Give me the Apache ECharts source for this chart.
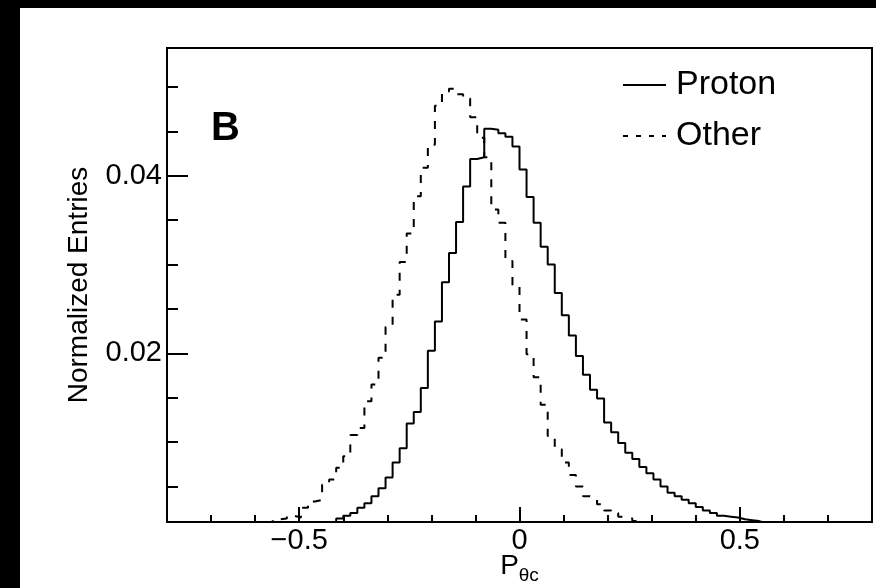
<!DOCTYPE html>
<html><head><meta charset="utf-8">
<script src="https://cdn.jsdelivr.net/npm/echarts@6/dist/echarts.min.js"></script>
<style>html,body{margin:0;padding:0;background:#fff}#c{width:876px;height:588px}</style>
</head><body><div id="c"></div>
<script>
// Histogram binning: 100 bins from -0.8 to 0.8
const binLow = -0.8;
const binWidth = 0.016;

const protonValues = [
  0, 0, 0, 0, 0, 0, 0, 0, 0, 0,
  0, 0, 0, 0, 0, 0, 0.0001, 0.0001, 0.0002, 0.0002,
  0.0003, 0.0004, 0.0006, 0.0008, 0.0014, 0.0017, 0.0020, 0.0026, 0.0031, 0.0039,
  0.0048, 0.0060, 0.0077, 0.0093, 0.0121, 0.0134, 0.0161, 0.0203, 0.0236, 0.0280,
  0.0313, 0.0348, 0.0388, 0.0419, 0.0421, 0.0453, 0.0452, 0.0448, 0.0444, 0.0433,
  0.0407, 0.0376, 0.0347, 0.0320, 0.0300, 0.0268, 0.0243, 0.0220, 0.0197, 0.0176,
  0.0159, 0.0149, 0.0122, 0.0111, 0.0099, 0.0088, 0.0081, 0.0072, 0.0065, 0.0058,
  0.0050, 0.0043, 0.0039, 0.0035, 0.0031, 0.0027, 0.0023, 0.0020, 0.0017, 0.0016,
  0.0015, 0.0013, 0.0012, 0.0011, 0.0009, 0.0008, 0.0007, 0.0006, 0.0005, 0.0004,
  0.0003, 0.0003, 0.0002, 0.0002, 0.0001, 0.0001, 0.0001, 0, 0, 0
];

const otherValues = [
  0, 0, 0, 0, 0, 0, 0, 0, 0, 0,
  0.0002, 0.0003, 0.0004, 0.0006, 0.0008, 0.0013, 0.0014, 0.0017, 0.0015, 0.0026,
  0.0033, 0.0035, 0.0052, 0.0058, 0.0071, 0.0084, 0.0108, 0.0116, 0.0146, 0.0165,
  0.0195, 0.0230, 0.0266, 0.0303, 0.0335, 0.0377, 0.0409, 0.0435, 0.0479, 0.0495,
  0.0498, 0.0492, 0.0487, 0.0466, 0.0443, 0.0421, 0.0362, 0.0347, 0.0304, 0.0277,
  0.0238, 0.0199, 0.0173, 0.0142, 0.0107, 0.0092, 0.0077, 0.0063, 0.0050, 0.0039,
  0.0037, 0.0030, 0.0023, 0.0020, 0.0016, 0.0014, 0.0011, 0.0009, 0.0007, 0.0005,
  0.0004, 0.0003, 0.0002, 0.0001, 0, 0, 0, 0, 0, 0,
  0, 0, 0, 0, 0, 0, 0, 0, 0, 0,
  0, 0, 0, 0, 0, 0, 0, 0, 0, 0
];

const seriesNames = ['Proton', 'Other'];
const xMajorTicks = [-0.5, 0, 0.5];
const xMinorTicks = [-0.7, -0.6, -0.5, -0.4, -0.3, -0.2, -0.1, 0, 0.1, 0.2, 0.3, 0.4, 0.5, 0.6, 0.7];
const yMajorTicks = [0.02, 0.04];
const yMinorTicks = [0.005, 0.01, 0.015, 0.02, 0.025, 0.03, 0.035, 0.04, 0.045, 0.05];

const FONT = '"Liberation Sans", Arial, Helvetica, sans-serif';

function toSteps(vals) {
  const pts = vals.map((v, i) => [binLow + binWidth * i, v]);
  pts.push([binLow + binWidth * vals.length, vals[vals.length - 1]]);
  return pts;
}

const chart = echarts.init(document.getElementById('c'), null, { renderer: 'canvas' });
const tickLine = { color: '#000', width: 2 };

chart.setOption({
  animation: false,
  backgroundColor: '#fff',
  textStyle: { fontFamily: FONT },
  grid: {
    left: 167, top: 48, right: 4, bottom: 66, show: true, borderColor: '#000', borderWidth: 2,
    backgroundColor: 'transparent', containLabel: false, outerBoundsMode: 'none'
  },
  title: { text: 'B', left: 211, top: 109, padding: 0, textStyle: { fontSize: 40, fontWeight: 'bold', color: '#000', fontFamily: FONT } },
  legend: {
    orient: 'vertical', left: 622, top: 68, padding: 0, itemWidth: 43, itemHeight: 14, itemGap: 17,
    itemStyle: { opacity: 0 },
    textStyle: { fontSize: 34, color: '#000', fontFamily: FONT, padding: [0, 0, 0, 5] },
    data: [{ name: seriesNames[0] }, { name: seriesNames[1], lineStyle: { type: [5, 8] } }]
  },
  xAxis: [
    {
      type: 'value', min: -0.8, max: 0.8, position: 'bottom',
      axisLine: { show: true, onZero: false, lineStyle: tickLine },
      splitLine: { show: false },
      axisTick: { show: true, inside: true, length: 15, customValues: xMajorTicks, lineStyle: tickLine },
      axisLabel: {
        customValues: xMajorTicks, fontSize: 29, color: '#000', margin: 4, fontFamily: FONT,
        formatter: v => (v === 0 ? '0' : String(v).replace('-', '\u2212'))
      },
      name: '{p|P}{s|\u03b8c}', nameLocation: 'middle', nameGap: 30, nameMoveOverlap: false,
      nameTextStyle: {
        fontFamily: FONT, color: '#000',
        rich: {
          p: { fontSize: 28, lineHeight: 28, verticalAlign: 'top', color: '#000', fontFamily: FONT },
          s: { fontSize: 19, lineHeight: 33, verticalAlign: 'bottom', color: '#000', fontFamily: FONT }
        }
      }
    },
    {
      type: 'value', min: -0.8, max: 0.8, position: 'bottom',
      axisLine: { show: false, onZero: false },
      splitLine: { show: false },
      axisTick: { show: true, inside: true, length: 7, customValues: xMinorTicks, lineStyle: tickLine },
      axisLabel: { show: false }
    }
  ],
  yAxis: [
    {
      type: 'value', min: 0.001, max: 0.0544, position: 'left',
      axisLine: { show: true, onZero: false, lineStyle: tickLine },
      splitLine: { show: false },
      axisTick: { show: true, inside: true, length: 21, customValues: yMajorTicks, lineStyle: tickLine },
      axisLabel: { customValues: yMajorTicks, fontSize: 29, color: '#000', margin: 5, fontFamily: FONT, formatter: v => v.toFixed(2) },
      name: 'Normalized Entries', nameLocation: 'middle', nameRotate: 90, nameGap: 74, nameMoveOverlap: false,
      nameTextStyle: { fontSize: 28, color: '#000', fontFamily: FONT }
    },
    {
      type: 'value', min: 0.001, max: 0.0544, position: 'left',
      axisLine: { show: false, onZero: false },
      splitLine: { show: false },
      axisTick: { show: true, inside: true, length: 11, customValues: yMinorTicks, lineStyle: tickLine },
      axisLabel: { show: false }
    }
  ],
  series: [
    {
      name: seriesNames[0], type: 'line', step: 'end', data: toSteps(protonValues),
      xAxisIndex: 0, yAxisIndex: 0, symbol: 'none', clip: true,
      lineStyle: { color: '#000', width: 2, type: 'solid' }, itemStyle: { color: '#000' }
    },
    {
      name: seriesNames[1], type: 'line', step: 'end', data: toSteps(otherValues),
      xAxisIndex: 0, yAxisIndex: 0, symbol: 'none', clip: true,
      lineStyle: { color: '#000', width: 2, type: [8, 9] }, itemStyle: { color: '#000' }
    }
  ],
  graphic: [
    { type: 'rect', left: 0, top: 0, shape: { width: 876, height: 8 }, style: { fill: '#000' }, silent: true },
    { type: 'rect', left: 0, top: 0, shape: { width: 20, height: 588 }, style: { fill: '#000' }, silent: true }
  ]
});
</script>
</body></html>
